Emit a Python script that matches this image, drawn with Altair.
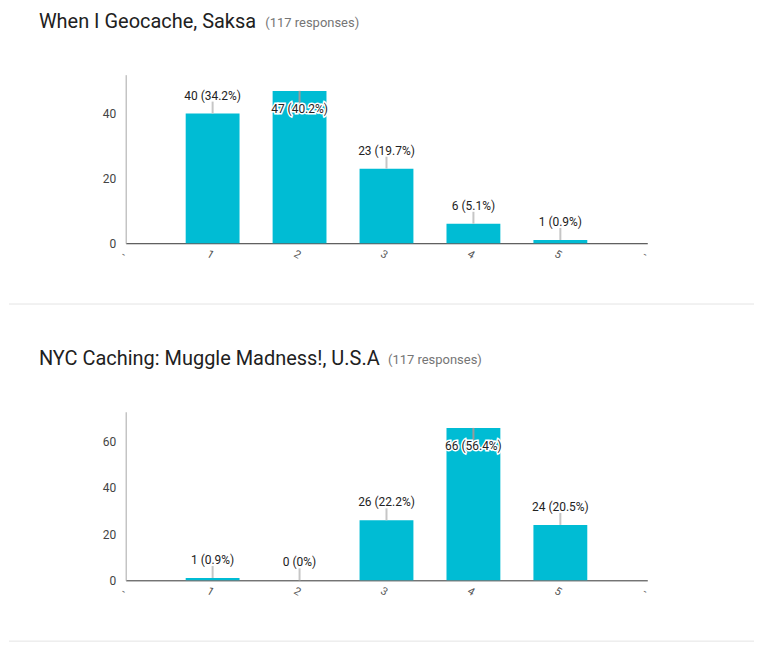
import altair as alt
import pandas as pd

ratings = [1, 2, 3, 4, 5]
counts_saksa = [40, 47, 23, 6, 1]
pct_saksa = ["34.2%", "40.2%", "19.7%", "5.1%", "0.9%"]
counts_usa = [1, 0, 26, 66, 24]
pct_usa = ["0.9%", "0%", "22.2%", "56.4%", "20.5%"]
titles = ["When I Geocache, Saksa", "NYC Caching: Muggle Madness!, U.S.A"]
responses = ["(117 responses)", "(117 responses)"]
y_max = [52, 73]
y_ticks = [[0, 20, 40], [0, 20, 40, 60]]
x_ticks = [0, 1, 2, 3, 4, 5, 6]
sub_x = [140, 263]

BAR = "#00bcd4"
FONT = "Roboto"
W, H = 523, 169


def panel(counts, pct, title, resp, ymax, yticks, sx):
    df = pd.DataFrame({
        "rating": ratings,
        "count": counts,
        "label": [f"{c} ({p})" for c, p in zip(counts, pct)],
    })
    x = alt.X("rating:Q",
              scale=alt.Scale(domain=[0, 6], nice=False, zero=False, padding=0),
              axis=alt.Axis(values=x_ticks, title=None, ticks=False, grid=False,
                            domainColor="#333333", labelAngle=30,
                            labelExpr="datum.value == 0 || datum.value == 6 ? '-' : datum.label",
                            labelFontSize=11, labelColor="#555555", labelPadding=6,
                            labelAlign="center", labelBaseline="top"))
    y = alt.Y("count:Q",
              scale=alt.Scale(domain=[0, ymax], nice=False),
              axis=alt.Axis(values=yticks, title=None, ticks=False, grid=False,
                            domainColor="#a8a8a8", labelColor="#444444",
                            labelFontSize=12, labelPadding=10))
    base = alt.Chart(df).transform_joinaggregate(maxc="max(count)")
    bars = base.mark_bar(size=54, color=BAR).encode(x=x, y=y)

    outside = base.transform_filter("datum.count < datum.maxc")
    inside = base.transform_filter("datum.count >= datum.maxc")

    stem_out = outside.mark_rule(color="#c6c6c6", strokeWidth=2, y2Offset=-12).encode(
        x=x, y=y, y2=alt.Y2("count:Q"))
    text_out = outside.mark_text(dy=-18, baseline="middle", font=FONT, fontSize=12,
                                 color="#222222").encode(x=x, y=y, text="label:N")
    stem_in = inside.mark_rule(color="#9a9a9a", strokeWidth=2, y2Offset=12).encode(
        x=x, y=y, y2=alt.Y2("count:Q"))
    halo_in = inside.mark_text(dy=18, baseline="middle", font=FONT, fontSize=12,
                               stroke="white", strokeWidth=3, color="white").encode(
        x=x, y=y, text="label:N")
    text_in = inside.mark_text(dy=18, baseline="middle", font=FONT, fontSize=12,
                               color="#222222").encode(x=x, y=y, text="label:N")

    tdf = pd.DataFrame({"t": [title], "r": [resp]})
    tbase = alt.Chart(tdf)
    ttl = tbase.mark_text(align="left", baseline="alphabetic", font=FONT, fontSize=20,
                          color="#212121").encode(x=alt.value(-87), y=alt.value(-47), text="t:N")
    sub = tbase.mark_text(align="left", baseline="alphabetic", font=FONT, fontSize=13,
                          color="#757575").encode(x=alt.value(sx), y=alt.value(-48), text="r:N")
    sep = tbase.mark_rule(color="#e4e4e4", strokeWidth=1).encode(
        x=alt.value(-117), x2=alt.value(630), y=alt.value(230))

    return alt.layer(bars, stem_out, text_out, stem_in, halo_in, text_in, ttl, sub, sep).properties(
        width=W, height=H)


p1 = panel(counts_saksa, pct_saksa, titles[0], responses[0], y_max[0], y_ticks[0], sub_x[0])
p2 = panel(counts_usa, pct_usa, titles[1], responses[1], y_max[1], y_ticks[1], sub_x[1])

chart = alt.vconcat(p1, p2, spacing=169, bounds="flush").properties(
    padding={"left": 0, "top": 3, "right": 0, "bottom": 0}
).configure(font=FONT).configure_view(stroke=None)

chart.save("out.html", embed_options={"renderer": "svg", "actions": False})
